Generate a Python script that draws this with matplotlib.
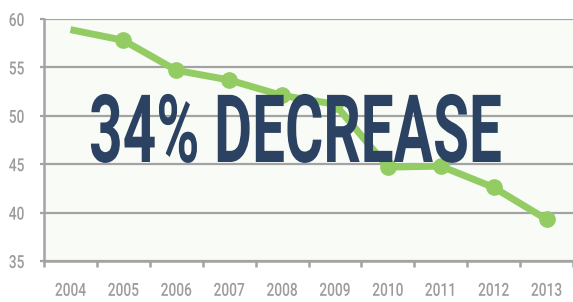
import matplotlib
matplotlib.use("Agg")
import matplotlib.pyplot as plt
from matplotlib.patheffects import AbstractPathEffect
from matplotlib.transforms import Affine2D, Bbox
import numpy as np

JAHRE = ["2004", "2005", "2006", "2007", "2008", "2009", "2010", "2011", "2012", "2013"]
WERTE = [58.9, 57.8, 54.7, 53.7, 52.1, 51.2, 44.7, 44.8, 42.6, 39.3]
Y_TICKS = [35, 40, 45, 50, 55, 60]
TITEL = "34% DECREASE"

GRUEN = "#93cc62"
NAVY = "#2c4263"
GRAU = "#a3a3a3"
GRAU_TEXT = "#9c9c9c"
HINTERGRUND = "#f9fbf6"


class Stauchen(AbstractPathEffect):
    """Text horizontal zusammendruecken (keine schmale Schrift installiert)."""

    def __init__(self, faktor, anker="mitte"):
        super().__init__()
        self.faktor = faktor
        self.anker = anker

    def draw_path(self, renderer, gc, tpath, affine, rgbFace=None):
        box = tpath.get_extents(affine)
        cx = box.x1 if self.anker == "rechts" else (box.x0 + box.x1) / 2
        neu = affine + Affine2D().translate(-cx, 0).scale(self.faktor, 1).translate(cx, 0)
        renderer.draw_path(gc, tpath, neu, rgbFace)


def stauchen(t, faktor, anker="mitte"):
    # Zeichnen und gemeldete Ausdehnung passend zueinander stauchen
    t.set_path_effects([Stauchen(faktor, anker)])
    original = t.get_window_extent

    def ausdehnung(renderer=None, dpi=None):
        b = original(renderer, dpi)
        cx = b.x1 if anker == "rechts" else (b.x0 + b.x1) / 2
        return Bbox.from_extents(cx + (b.x0 - cx) * faktor, b.y0,
                                 cx + (b.x1 - cx) * faktor, b.y1)

    t.get_window_extent = ausdehnung


fig = plt.figure(figsize=(5.73, 3.02), dpi=100)
ax = fig.add_axes([44 / 573, 1 - 261 / 302, 1 - 44 / 573, (261 - 19) / 302])
ax.set_facecolor(HINTERGRUND)

x = np.arange(len(JAHRE))
ax.plot(x, WERTE, color=GRUEN, linewidth=5, marker="o", markersize=11,
        markevery=list(range(1, len(JAHRE))), solid_capstyle="butt", zorder=3)

ax.set_xlim(-0.5, len(JAHRE) - 0.5)
ax.set_ylim(35, 60)
ax.set_yticks(Y_TICKS)
ax.set_yticklabels([str(v) for v in Y_TICKS])
ax.set_xticks(x)
ax.set_xticklabels(JAHRE)
ax.set_xticks(np.arange(-0.5, len(JAHRE)), minor=True)

ax.grid(True, axis="y", color=GRAU, linewidth=1.6)
ax.set_axisbelow(True)
for seite in ["top", "right"]:
    ax.spines[seite].set_visible(False)
for seite in ["left", "bottom"]:
    ax.spines[seite].set_color(GRAU)
    ax.spines[seite].set_linewidth(1.8)

ax.tick_params(axis="y", length=3, width=1.6, color=GRAU, pad=11,
               labelcolor=GRAU_TEXT)
ax.tick_params(axis="x", which="major", length=0, pad=15,
               labelcolor=GRAU_TEXT)
ax.tick_params(axis="x", which="minor", length=4, width=1.8, color=GRAU)
for lbl in ax.get_xticklabels():
    lbl.set_fontfamily(["Roboto", "DejaVu Sans"])
    lbl.set_fontweight("medium")
    lbl.set_fontsize(13)
    stauchen(lbl, 0.76, "mitte")
for lbl in ax.get_yticklabels():
    lbl.set_fontfamily(["Roboto", "DejaVu Sans"])
    lbl.set_fontweight("medium")
    lbl.set_fontsize(13)
    stauchen(lbl, 0.76, "rechts")

# grosser Text ueber dem Diagramm, Breite an die Vorlage angepasst
text = fig.text(295.5 / 573, 1 - 162 / 302, TITEL, ha="center", va="baseline",
                color=NAVY, zorder=5, fontsize=68, fontweight="bold",
                family=["Roboto", "DejaVu Sans"])
fig.canvas.draw()
breite = text.get_window_extent().width
stauchen(text, 413 / breite, "mitte")

fig.savefig("out.png", dpi=100)
